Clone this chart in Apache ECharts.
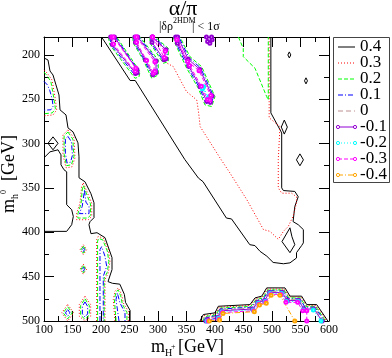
<!DOCTYPE html>
<html>
<head>
<meta charset="utf-8">
<script src="https://cdn.jsdelivr.net/npm/echarts@6/dist/echarts.min.js"></script>
<style>
html, body { margin: 0; padding: 0; background: #fff; }
#chart { width: 392px; height: 358px; }
</style>
</head>
<body>
<div id="chart"></div>
<script>
// axis ranges / ticks
var xTicks = [100, 150, 200, 250, 300, 350, 400, 450, 500, 550, 600];
var yRange = [180, 500];
var levels = ['0.4', '0.3', '0.2', '0.1', '0', '-0.1', '-0.2', '-0.3', '-0.4'];

// ---- 0.4 (black) ----
var c04_main = [[201,180],[251,229],[260,229],[347,318],[371,339],[379,343],[420,384],[429,385],[461,414],[470,415],[479,421.5],[491,427],[502,434],[520,435.5],[531.5,434.5],[543,429],[543,423],[552,415],[555,412],[555,397],[546,391.5],[537,388],[540,371],[546,360],[540,354],[520,353],[517,350],[517,288],[498,265.5],[498,180]];
var c04_hook = [[531.5,395],[517.5,410.5],[531.5,423],[540,414],[535,405],[531.5,395]];
var c04_d1 = [[530.4,196.8],[533,200.2],[530.4,203.6],[527.8,200.2],[530.4,196.8]];
var c04_d2 = [[559.6,226],[562.2,229.4],[559.6,232.8],[557,229.4],[559.6,226]];
var c04_d3 = [[521.6,273.6],[526.9,281.5],[521.6,289.4],[516.3,281.5],[521.6,273.6]];
var c04_d4 = [[549,311.7],[555.1,318.4],[549,325.1],[542.9,318.4],[549,311.7]];
var c04_dl = [[115.8,292.5],[124.6,299.8],[115.8,307.1],[107,299.8],[115.8,292.5]];
var c04_left = [[100,203.6],[107,205.9],[110.5,218.3],[115.8,222.8],[121,234],[126.3,245.3],[128.1,262.1],[138.6,267.8],[142.1,282.4],[150.9,286.9],[159.6,299.3],[161.4,315],[161.4,338.6],[171.9,343.1],[182.4,356.6],[187.7,366.8],[187.7,383.6],[180.7,388.1],[178.9,391.5],[182.4,401.6],[193,400.5],[207,406.1],[219.3,428.6],[219.3,442.1],[212.3,455.6],[220,457.5],[233,458.5],[241,470],[243,479],[251,488],[251,500]];
var c04_edge = [[100,316.1],[110.5,309.4],[124.6,307.1],[129.8,312.8],[129.8,324],[135.1,329.6],[139.8,331.9],[139.8,369],[148.6,374.6],[151.4,382.2],[148.6,391.5],[139.8,399],[100,399]];
var c04_bot = [[373.7,500],[379.5,492.7],[400,490.8],[405.8,483.4],[461.4,481.5],[470.2,474],[482,472],[490.7,462.7],[522.8,462.7],[531.6,472],[552,472],[560.9,481.5],[578.4,481.5],[598,500]];

// ---- 0.3 (red) ----
var c03_main = [[312,208],[327,213.5],[333,221],[350,241.5],[368,251],[371,264],[374,281],[409,316.5],[426,333],[456,363.5],[485,397],[496.5,399],[511,408],[520,399],[528.5,393.5],[537,382],[543,367],[543,360],[534.5,356],[517,356],[511,350],[511,318],[514,281],[495,271],[495,180]];
var c03_bot = [[376,500],[381,494],[401,492],[407,484.5],[462,482.5],[471,475],[483,473],[491.5,464],[522,464],[530.5,473],[551,473],[560,482.5],[577.5,482.5],[596,500]];
var c03_A = [[100,217.1],[105.3,220.5],[114,228.4],[119.3,247.5],[122.3,262.1],[115.8,267.8],[100,268.9]];
var c03_B = [[142.1,284.6],[152.6,293.6],[154.4,316.1],[149.1,326.3],[138.6,327.4],[133.3,312.8],[133.3,290.3],[142.1,284.6]];
var c03_C = [[168.9,344.6],[177.7,357.8],[183.7,367.1],[183.7,382.2],[177.7,385.9],[157.4,385.9],[157.4,378.3],[163.1,367.1],[166.1,348.4],[168.9,344.6]];
var c03_D1 = [[169,414],[174.8,419.6],[169,425.2],[163.2,419.6],[169,414]];
var c03_D2 = [[169,436],[174.8,441.6],[169,447.2],[163.2,441.6],[169,436]];
var c03_E = [[192.4,500],[192.4,408.4],[195.2,404.7],[204,406.5],[212.8,419.6],[215.8,432.8],[212.8,445.8],[207,453.4],[207,500]];
var c03_F = [[224.5,500],[221.6,475.9],[224.5,466.5],[230.3,462.7],[236.3,470.3],[239.1,479.6],[247.9,489],[247.9,500]];
var c03_G = [[141.6,481.4],[152.1,490.8],[141.6,500],[131.1,490.8],[141.6,481.4]];
var c03_H = [[171.9,472.2],[181.9,481.5],[181.9,494.7],[171.9,500],[161.9,494.7],[161.9,481.5],[171.9,472.2]];

// ---- 0.2 (green) ----
var c02_tr = [[441,180],[449.6,192.7],[449.6,202.2],[470.2,215.2],[490.7,247.2],[493.5,250.9],[493.5,180]];
var c02_b1 = [[212.8,180],[215.8,189],[259.6,226.5],[266.6,225],[268.4,219],[227.5,180]];
var c02_b2 = [[255.6,180],[256.6,186.8],[274.2,205.9],[288.9,226.5],[300.5,222.8],[300.5,205.9],[268.4,180]];
var c02_b3 = [[285.9,180],[285.9,186.8],[309.3,209.6],[318,207.8],[318,192.7],[294.7,180]];
var c02_b4 = [[326.8,180],[329.8,187.1],[350.3,215.2],[370.7,237.7],[382.4,256.5],[394.2,258.4],[399.9,247.2],[376.6,213.4],[356.1,202.2],[338.5,180]];
var c02_bot = [[378,500],[382.5,495],[402,493],[408,485.5],[463,483.5],[472,476],[484,474],[492.5,465],[521,465],[529.5,474],[550,474],[559,483.5],[576.5,483.5],[594,500]];
var c02_A = [[100,219.5],[104,222.5],[112,230],[117,248],[120,261],[114.5,265.5],[100,266.5]];
var c02_B = [[142,287],[150.5,295],[152.5,315],[148,324],[139.5,325],[135.3,312],[135.3,291.5],[142,287]];
var c02_C = [[169,347.5],[176,359],[181.5,368],[181.5,381],[176.5,384],[159.5,384],[159.5,379],[165,368],[167.5,350],[169,347.5]];
var c02_D1 = [[169,415.6],[173,419.6],[169,423.6],[165,419.6],[169,415.6]];
var c02_D2 = [[169,437.6],[173,441.6],[169,445.6],[165,441.6],[169,437.6]];
var c02_E = [[194,500],[194,410],[196,407],[203,408.5],[211,421],[213.8,433],[211,445],[205.5,452],[205.5,500]];
var c02_F = [[226.5,500],[223.5,476],[226,468],[230,465],[234.5,471.5],[237.5,481],[245.5,490.5],[245.5,500]];
var c02_G = [[141.6,484],[149.5,490.8],[141.6,497.6],[133.7,490.8],[141.6,484]];
var c02_H = [[171.9,475],[179.5,482.5],[179.5,493.5],[171.9,498],[164.3,493.5],[164.3,482.5],[171.9,475]];

// ---- 0.1 (blue) ----
var c01_b1 = [[215,180],[218,189],[260,223.5],[265,222.5],[265.5,218],[225.5,180]];
var c01_b2 = [[257.5,180],[258.5,186.5],[276,206],[290,224.5],[298.5,221.5],[298.5,206.5],[266.5,180]];
var c01_b3 = [[287.7,180],[287.7,186.5],[310,207.5],[316,206],[316,193.5],[292.7,180]];
var c01_b4 = [[328.8,180],[331.8,187],[352,214],[372.5,237],[384,254.5],[393,256],[397.5,247],[375,215],[354.5,203.5],[336.5,180]];
var c01_bot = [[380,500],[384,496],[403,494],[409,486.5],[464,484.5],[473,477],[485,475],[493.5,466],[520,466],[528.5,475],[549,475],[558,484.5],[575.5,484.5],[592,500]];
var c01_A = [[100,230],[106,234],[110,240],[114,249],[116,258],[112,262],[100,262.5]];
var c01_B = [[142,292],[148,298],[150,313],[146.5,321],[140.5,322],[137.5,311],[137.5,295],[142,292]];
var c01_C = [[171,353],[173.5,366],[179,371],[179,379],[162,379],[167,371],[171,353]];
var c01_D1 = [[169,417.3],[171,419.6],[169,421.9],[167,419.6],[169,417.3]];
var c01_D2 = [[169,439.3],[171,441.6],[169,443.9],[167,441.6],[169,439.3]];
var c01_E = [[198.2,500],[198.2,419.6],[201.2,416.2],[207,427.2],[210,438.4],[204,449.7],[204,500]];
var c01_F = [[231.6,500],[226.3,475.9],[228.6,468.4],[233.3,479.6],[242.1,490.8],[242.1,500]];
var c01_G = [[141.6,487],[145.5,490.8],[141.6,494.6],[137.7,490.8],[141.6,487]];
var c01_H = [[171.9,478.5],[176.5,483.5],[176.5,492],[171.9,495.5],[167.3,492],[167.3,483.5],[171.9,478.5]];

// ---- 0 (brown) ----
var c00_bot = [[382,500],[385.5,497],[404,495],[410,487.5],[465,485.5],[474,478],[486,476],[494.5,467],[519,467],[527.5,476],[548,476],[557,485.5],[574.5,485.5],[590,500]];

// ---- -0.1 (violet) ----
var cm1_b1 = [[217,180],[220,188.5],[260.5,221],[263.5,220],[263,216.5],[223.5,180]];
var cm1_b2 = [[259.5,180],[260.5,186],[278,206],[291,222.5],[296.5,220],[296.5,207],[264.5,180]];
var cm1_b3 = [[289.5,180],[289.5,186],[310.5,205.5],[314,204.5],[314,194.5],[290.7,180]];
var cm1_b4 = [[331,180],[334,187],[354,213],[374,236],[385.5,252.5],[392,253.5],[395,246.5],[373.5,216.5],[353,205],[334.5,180]];
var cm1_b5 = [[385,180],[387,185],[391,187],[395,183],[394,180]];
var cm1_bot = [[384,500],[387,498],[405,496],[411,488.5],[466,486.5],[475,479],[487,477],[495.5,468],[518,468],[526.5,477],[547,477],[556,486.5],[573.5,486.5],[588,500]];

// ---- -0.2 (cyan) ----
var cm2_b4 = [[378,238],[388,249],[390,247],[380,236],[378,238]];
var cm2_bot = [[386,500],[406,497],[412,489.5],[467,487.5],[476,480],[488,478],[496.5,469],[517,469],[525.5,478],[546,478],[555,487.5],[572.5,487.5],[586,500]];

// ---- -0.3 (magenta) ----
var cm3_b1 = [[219,180],[222,188],[260,219],[261,215],[221.5,180]];
var cm3_b2 = [[261.5,180],[262.5,186],[280,206.5],[292,220.5],[294.5,218.5],[294.5,208],[262.5,180]];
var cm3_b3 = [[290.5,180],[311,203],[312.5,196],[290.5,180]];
var cm3_b4 = [[333,183],[355.5,212],[376,235.5],[387,250.5],[391,251],[392.5,246],[372,218],[352,207.5],[333,183]];
var cm3_bot = [[388,500],[407,498],[413,490.5],[468,488.5],[477,481],[489,479],[497.5,470],[516,470],[524.5,479],[545,479],[554,488.5],[561,488.5],[561,500]];

// ---- -0.4 (orange) ----
var cm4_bot = [[390,500],[408,499],[414,491.5],[469,489.5],[478,482],[490,480],[498.5,471],[514,471],[540,500]];

var contours = [
  ['0.4', [c04_main, c04_hook, c04_d1, c04_d2, c04_d3, c04_d4, c04_dl, c04_left, c04_edge, c04_bot]],
  ['0.3', [c03_main, c03_bot, c03_A, c03_B, c03_C, c03_D1, c03_D2, c03_E, c03_F, c03_G, c03_H]],
  ['0.2', [c02_tr, c02_b1, c02_b2, c02_b3, c02_b4, c02_bot, c02_A, c02_B, c02_C, c02_D1, c02_D2, c02_E, c02_F, c02_G, c02_H]],
  ['0.1', [c01_b1, c01_b2, c01_b3, c01_b4, c01_bot, c01_A, c01_B, c01_C, c01_D1, c01_D2, c01_E, c01_F, c01_G, c01_H]],
  ['0', [c00_bot]],
  ['-0.1', [cm1_b1, cm1_b2, cm1_b3, cm1_b4, cm1_b5, cm1_bot]],
  ['-0.2', [cm2_b4, cm2_bot]],
  ['-0.3', [cm3_b1, cm3_b2, cm3_b3, cm3_b4, cm3_bot]],
  ['-0.4', [cm4_bot]]
];

var look = {
  '0.4': ['#000000', 'solid'],
  '0.3': ['#ff0000', [1, 2]],
  '0.2': ['#00ff00', [4, 2]],
  '0.1': ['#0000ff', [5, 2, 1, 2]],
  '0': ['#bc8f8f', [5, 3]],
  '-0.1': ['#9400d3', 'solid'],
  '-0.2': ['#00ffff', [1, 2]],
  '-0.3': ['#ff00ff', [4, 2]],
  '-0.4': ['#ffa500', [5, 2, 1, 2]]
};

var series = [];
contours.forEach(function (c) {
  var name = c[0];
  var neg = name.charAt(0) === '-';
  c[1].forEach(function (seg) {
    series.push({
      type: 'line',
      name: name,
      data: seg,
      silent: true,
      animation: false,
      symbol: neg ? 'emptyCircle' : 'none',
      symbolSize: 3,
      showSymbol: neg,
      itemStyle: { color: look[name][0] },
      lineStyle: { color: look[name][0], type: look[name][1], width: 1 }
    });
  });
});

var serif = 'Liberation Serif';

// legend box drawn by hand (xmgrace style: short line, circles on the ends for negative levels)
var legendBox = [{
  type: 'rect', z: 100,
  shape: { x: 333.5, y: 37.5, width: 56, height: 145 },
  style: { fill: '#fff', stroke: '#444', lineWidth: 1 }
}];
levels.forEach(function (l, i) {
  var y = 47 + 16 * i;
  var col = look[l][0];
  var dash = look[l][1] === 'solid' ? null : look[l][1];
  legendBox.push({
    type: 'line', z: 101,
    shape: { x1: 338, y1: y, x2: 355, y2: y },
    style: { stroke: col, lineWidth: 1, lineDash: dash }
  });
  if (l.charAt(0) === '-') {
    [338, 355].forEach(function (cx) {
      legendBox.push({
        type: 'circle', z: 102,
        shape: { cx: cx, cy: y, r: 1.6 },
        style: { fill: '#fff', stroke: col, lineWidth: 1 }
      });
    });
  }
  legendBox.push({
    type: 'text', z: 101, x: 360, y: y,
    style: { text: l, font: '17px "Liberation Serif"', fill: '#000', align: 'left', verticalAlign: 'middle', textAlign: 'left', textVerticalAlign: 'middle' }
  });
});

function txt(x, y, s, size, align, rot) {
  return {
    type: 'text', x: x, y: y, rotation: rot || 0,
    style: { text: s, font: size + 'px "Liberation Serif"', fill: '#000', align: align, verticalAlign: 'middle', textAlign: align, textVerticalAlign: 'middle' }
  };
}

var titles = [
  txt(183, 9, 'α/π', 22, 'center'),
  txt(173, 27, '|δρ', 12, 'right'),
  txt(173, 21, '2HDM', 8, 'left'),
  txt(192, 27, '| < 1σ', 12, 'left'),
  // x axis title
  txt(165, 347, 'm', 18, 'right'),
  txt(165, 353, 'H', 10, 'left'),
  txt(171, 347, '+', 8, 'left'),
  txt(178, 347, '[GeV]', 18, 'left'),
  // y axis title, rotated
  txt(9, 213, 'm', 18, 'left', Math.PI / 2),
  txt(15, 199, 'h', 10, 'left', Math.PI / 2),
  txt(4, 194, '0', 8, 'left', Math.PI / 2),
  txt(9, 181, '[GeV]', 18, 'left', Math.PI / 2)
];

var tickCfg = { inside: true, length: 10, lineStyle: { color: '#000' } };
var minorCfg = { show: true, splitNumber: 2, length: 5, lineStyle: { color: '#000' } };
var lineCfg = { show: true, onZero: false, lineStyle: { color: '#000', width: 1 } };

var chart = echarts.init(document.getElementById('chart'));
chart.setOption({
  backgroundColor: '#ffffff',
  animation: false,
  grid: { left: 44, top: 37, width: 285, height: 284 },
  xAxis: [{
    type: 'value', min: xTicks[0], max: xTicks[xTicks.length - 1], interval: 50,
    axisLine: lineCfg, axisTick: tickCfg, minorTick: minorCfg, splitLine: { show: false },
    axisLabel: { fontFamily: serif, fontSize: 12, color: '#000', margin: 3 }
  }, {
    type: 'value', position: 'top', min: xTicks[0], max: xTicks[xTicks.length - 1], interval: 50,
    axisLine: lineCfg, axisTick: tickCfg, minorTick: minorCfg, splitLine: { show: false },
    axisLabel: { show: false }
  }],
  yAxis: [{
    type: 'value', inverse: true, min: yRange[0], max: yRange[1], minInterval: 50, maxInterval: 50,
    axisLine: lineCfg, axisTick: tickCfg, minorTick: minorCfg, splitLine: { show: false },
    axisLabel: { fontFamily: serif, fontSize: 12, color: '#000', margin: 4, showMinLabel: false }
  }, {
    type: 'value', position: 'right', inverse: true, min: yRange[0], max: yRange[1], minInterval: 50, maxInterval: 50,
    axisLine: lineCfg, axisTick: tickCfg, minorTick: minorCfg, splitLine: { show: false },
    axisLabel: { show: false }
  }],
  graphic: titles.concat(legendBox),
  series: series
});
</script>
</body>
</html>
